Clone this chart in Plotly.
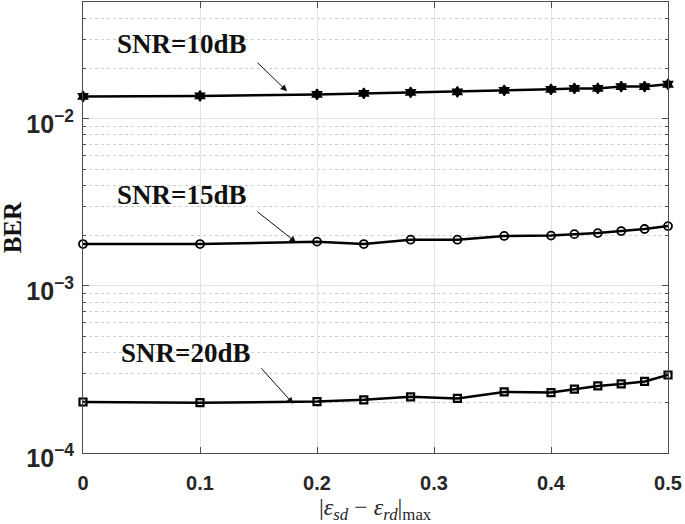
import numpy as np
import plotly.graph_objects as go

x = [0, 0.1, 0.2, 0.24, 0.28, 0.32, 0.36, 0.40, 0.42, 0.44, 0.46, 0.48, 0.5]
ber_10 = [0.0136, 0.0137, 0.0140, 0.0142, 0.0144, 0.0145, 0.0148, 0.0150, 0.0152, 0.0152, 0.0156, 0.0156, 0.0161]
ber_15 = [0.00178, 0.00178, 0.00184, 0.00178, 0.00189, 0.00189, 0.00199, 0.00200, 0.00204, 0.00207, 0.00213, 0.00219, 0.00228]
ber_20 = [0.000202, 0.000200, 0.000203, 0.000208, 0.000217, 0.000212, 0.000232, 0.000230, 0.000241, 0.000252, 0.000259, 0.000268, 0.000293]

labels = ["SNR=10dB", "SNR=15dB", "SNR=20dB"]
label_pos = [(0.0838, 0.0279), (0.0838, 0.00348), (0.0880, 0.000399)]
arrow_tail = [(0.1479, 0.0221), (0.1479, 0.00282), (0.1513, 0.000328)]
arrow_head = [(0.1744, 0.01462), (0.1821, 0.001824), (0.1797, 0.000197)]

x_ticks = [0, 0.1, 0.2, 0.3, 0.4, 0.5]
x_ticktext = ["0", "0.1", "0.2", "0.3", "0.4", "0.5"]

fig = go.Figure()
fig.add_trace(go.Scatter(x=x, y=ber_10, mode="lines+markers", name=labels[0], cliponaxis=False,
                         line=dict(color="black", width=2.5),
                         marker=dict(symbol="hexagram", size=8, color="black",
                                     line=dict(color="black", width=1.5))))
fig.add_trace(go.Scatter(x=x, y=ber_15, mode="lines+markers", name=labels[1], cliponaxis=False,
                         line=dict(color="black", width=2.5),
                         marker=dict(symbol="circle-open", size=8, color="black",
                                     line=dict(color="black", width=1.8))))
fig.add_trace(go.Scatter(x=x, y=ber_20, mode="lines+markers", name=labels[2], cliponaxis=False,
                         line=dict(color="black", width=2.5),
                         marker=dict(symbol="square-open", size=7, color="black",
                                     line=dict(color="black", width=2.2))))

annotations = []
for lab, (tx, ty), (ax_, ay_), (hx, hy) in zip(labels, label_pos, arrow_tail, arrow_head):
    annotations.append(dict(x=tx, y=np.log10(ty), xref="x", yref="y", text=lab,
                            showarrow=False,
                            font=dict(family="Liberation Serif", size=27, color="#111111", weight="bold")))
    annotations.append(dict(x=hx, y=np.log10(hy), xref="x", yref="y",
                            ax=ax_, ay=np.log10(ay_), axref="x", ayref="y",
                            text="", showarrow=True, arrowhead=2, arrowsize=1.3,
                            arrowwidth=1, arrowcolor="#111111", standoff=0))

# axis titles
annotations.append(dict(x=0.5, y=-0.124, xref="paper", yref="paper", showarrow=False,
                        xanchor="center", yanchor="middle",
                        text="|<i>ε</i><sub><i>sd</i></sub> − <i>ε</i><sub><i>rd</i></sub>|<sub>max</sub>",
                        font=dict(family="Liberation Serif", size=24, color="#262626")))
annotations.append(dict(x=-0.12, y=0.5, xref="paper", yref="paper", showarrow=False,
                        xanchor="center", yanchor="middle", textangle=-90,
                        text="<b>BER</b>",
                        font=dict(family="Liberation Serif", size=25, color="#111111")))

axis_common = dict(showline=True, linecolor="#4d4d4d", linewidth=1, mirror="allticks",
                   ticks="inside", ticklen=6, tickcolor="#4d4d4d", automargin=False,
                   showgrid=True, gridcolor="#e3e3e3", gridwidth=1, zeroline=False,
                   tickfont=dict(family="Liberation Sans", size=20, color="#262626", weight="bold"))

fig.update_layout(
    width=685, height=524,
    margin=dict(l=83, r=17, t=2, b=71),
    paper_bgcolor="white", plot_bgcolor="white",
    showlegend=False,
    annotations=annotations,
    xaxis=dict(range=[0, 0.5], tickvals=x_ticks, ticktext=x_ticktext,
               ticklabelstandoff=12, **axis_common),
    yaxis=dict(type="log", range=[-4, np.log10(0.05)], dtick=1, exponentformat="power",
               ticklabelshift=5, ticklabelstandoff=4,
               minor=dict(dtick="D1", showgrid=True, gridcolor="#cfcfcf", griddash="dot",
                          ticks="inside", ticklen=3, tickcolor="#4d4d4d"),
               **axis_common),
)

fig.write_html("out.html", config={"displayModeBar": False},
               post_script="document.body.style.margin='0';document.body.style.padding='0';")
